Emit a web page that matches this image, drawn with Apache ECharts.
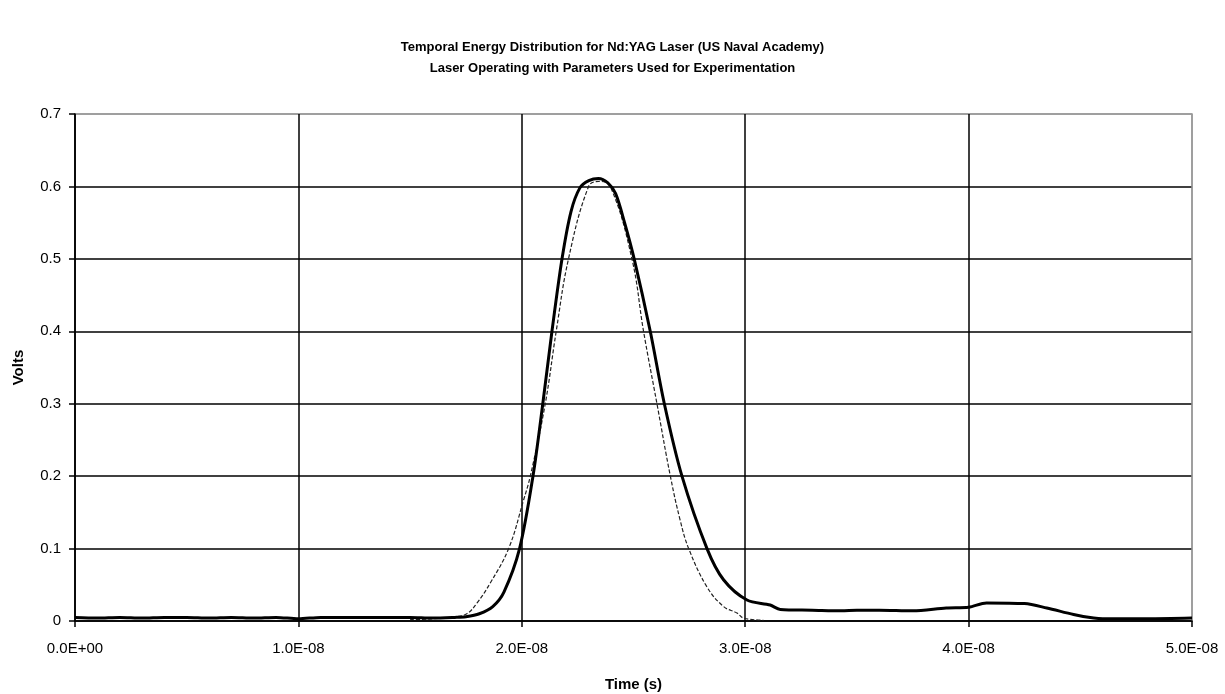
<!DOCTYPE html>
<html>
<head>
<meta charset="utf-8">
<script src="https://cdn.jsdelivr.net/npm/echarts@6/dist/echarts.min.js"></script>
<style>
  html, body { margin: 0; padding: 0; background: #fff; }
  #chart { width: 1225px; height: 694px; }
</style>
</head>
<body>
<div id="chart"></div>
<script>
// time in ns, voltage in V
var measuredTime = [0, 1, 2, 3, 4, 5, 6, 7, 8, 9, 10, 11, 12, 13, 14, 15, 16, 17, 17.5, 18.1, 18.7, 19.2, 19.9, 20.5, 20.94, 21.35, 21.8, 22.2, 22.6, 23.0, 23.43, 23.85, 24.2, 24.6, 25.03, 25.75, 26.38, 27.17, 28.29, 29.03, 30.08, 31.12, 31.57, 33, 34.3, 35, 36, 37.5, 39, 40, 40.8, 42.5, 43.5, 44.7, 45.6, 46, 48, 50];
var measuredVolts = [0.005, 0.004, 0.005, 0.004, 0.005, 0.005, 0.004, 0.005, 0.004, 0.005, 0.003, 0.005, 0.005, 0.005, 0.005, 0.005, 0.004, 0.005, 0.006, 0.01, 0.02, 0.04, 0.1, 0.2, 0.3, 0.4, 0.5, 0.565, 0.598, 0.608, 0.611, 0.605, 0.59, 0.55, 0.5, 0.4, 0.3, 0.2, 0.1, 0.057, 0.029, 0.022, 0.016, 0.015, 0.014, 0.015, 0.015, 0.014, 0.018, 0.019, 0.025, 0.024, 0.018, 0.009, 0.004, 0.003, 0.003, 0.004];

var fitTime = [15, 16, 17, 17.54, 18.0, 18.58, 19.41, 20.08, 20.38, 21.05, 21.54, 22.09, 22.99, 23.43, 23.96, 24.93, 25.45, 26.05, 26.65, 27.09, 27.47, 28.29, 29.03, 29.63, 29.93, 30.82];
var fitVolts = [0.002, 0.003, 0.006, 0.01, 0.025, 0.052, 0.1, 0.167, 0.2, 0.3, 0.4, 0.5, 0.6, 0.607, 0.6, 0.5, 0.4, 0.3, 0.2, 0.139, 0.1, 0.047, 0.02, 0.011, 0.004, 0.001];

var yTicks = ['0', '0.1', '0.2', '0.3', '0.4', '0.5', '0.6', '0.7'];

function sci(ns) {
    var v = ns * 1e-9;
    if (v === 0) return '0.0E+00';
    var e = Math.floor(Math.log10(Math.abs(v)) + 1e-9);
    var m = v / Math.pow(10, e);
    return m.toFixed(1) + 'E' + (e < 0 ? '-' : '+') + String(Math.abs(e)).padStart(2, '0');
}

function pairs(xs, ys) {
    return xs.map(function (x, i) { return [x, ys[i]]; });
}

var font = 'Liberation Sans, Arial, sans-serif';
var chart = echarts.init(document.getElementById('chart'));
chart.setOption({
    animation: false,
    backgroundColor: '#fff',
    title: {
        text: 'Temporal Energy Distribution for Nd:YAG Laser (US Naval Academy)\nLaser Operating with Parameters Used for Experimentation',
        left: 'center',
        top: 32,
        textStyle: { fontFamily: font, fontSize: 13, fontWeight: 'bold', color: '#000', lineHeight: 21 }
    },
    grid: {
        left: 75, right: 33, top: 114, bottom: 73,
        outerBoundsMode: 'none', containLabel: false,
        show: true, borderColor: '#999', borderWidth: 1.5
    },
    xAxis: {
        type: 'value',
        min: 0, max: 50, interval: 10,
        name: 'Time (s)',
        nameLocation: 'middle',
        nameGap: 56,
        nameTextStyle: { fontFamily: font, fontSize: 15, fontWeight: 'bold', color: '#000' },
        axisLine: { onZero: false, lineStyle: { color: '#000', width: 1.5 } },
        axisTick: { show: true, length: 6, lineStyle: { color: '#000', width: 1.5 } },
        axisLabel: { fontFamily: font, fontSize: 15, color: '#000', margin: 20, formatter: sci },
        splitLine: { show: true, lineStyle: { color: ['#000', '#000', '#000', '#000', '#000', '#999'], width: 1.5 } }
    },
    yAxis: {
        type: 'value',
        min: 0, max: 0.7, interval: 0.1,
        name: 'Volts',
        nameLocation: 'middle',
        nameGap: 49,
        nameTextStyle: { fontFamily: font, fontSize: 15, fontWeight: 'bold', color: '#000' },
        axisLine: { show: true, lineStyle: { color: '#000', width: 1.5 } },
        axisTick: { show: true, length: 6, lineStyle: { color: '#000', width: 1.5 } },
        axisLabel: {
            fontFamily: font, fontSize: 15, color: '#000', margin: 14,
            formatter: function (v) { return yTicks[Math.round(v * 10)]; }
        },
        splitLine: { show: true, lineStyle: { color: ['#000', '#000', '#000', '#000', '#000', '#000', '#000', '#999'], width: 1.5 } }
    },
    series: [
        {
            name: 'fit',
            type: 'line',
            data: pairs(fitTime, fitVolts),
            showSymbol: false,
            smooth: 0.4,
            lineStyle: { color: '#222', width: 1.2, type: [4, 2] },
            z: 3
        },
        {
            name: 'measured',
            type: 'line',
            data: pairs(measuredTime, measuredVolts),
            showSymbol: false,
            smooth: 0.3,
            lineStyle: { color: '#000', width: 3 },
            z: 4
        }
    ]
});
</script>
</body>
</html>
